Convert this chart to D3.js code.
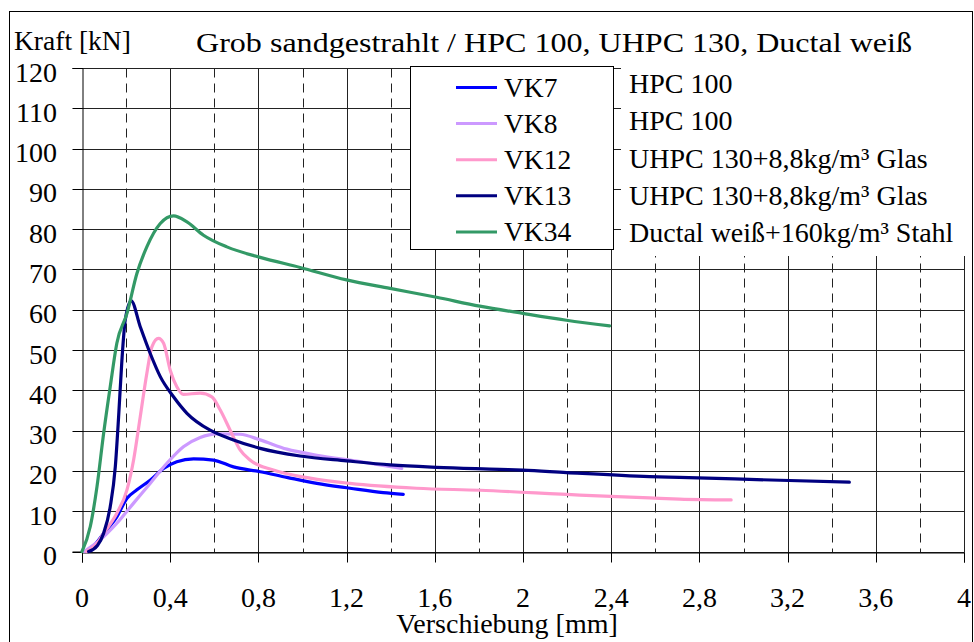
<!DOCTYPE html>
<html><head><meta charset="utf-8">
<script src="https://cdn.jsdelivr.net/npm/d3@7"></script>
<style>body{margin:0;background:#fff}svg{display:block}</style>
</head><body><svg id="c" width="974" height="642" font-family="'Liberation Serif', 'Times New Roman', Tinos, 'DejaVu Serif', serif"></svg>
<script>
const titleText = "Grob sandgestrahlt / HPC 100, UHPC 130, Ductal weiß";
const yAxisTitle = "Kraft [kN]";
const xAxisTitle = "Verschiebung [mm]";
const xTicks = [0,0.4,0.8,1.2,1.6,2,2.4,2.8,3.2,3.6,4];
const xMinor = [0.2,0.6,1.0,1.4,1.8,2.2,2.6,3.0,3.4,3.8];
const yTicks = [0,10,20,30,40,50,60,70,80,90,100,110,120];
const seriesNames = ["VK7","VK8","VK12","VK13","VK34"];
const seriesNotes = ["HPC 100","HPC 100","UHPC 130+8,8kg/m³ Glas","UHPC 130+8,8kg/m³ Glas","Ductal weiß+160kg/m³ Stahl"];
const seriesColors = ["#0000FF","#CC99FF","#FF99CC","#000080","#339966"];

const vk7 = [[0.02,0],[0.06,1.8],[0.098,4.5],[0.158,8.6],[0.204,13.2],[0.249,15.3],[0.309,17.7],[0.37,20.6],[0.43,22.3],[0.506,23.0],[0.596,22.7],[0.687,21.0],[0.808,19.8],[0.929,18.4],[1.065,16.9],[1.215,15.7],[1.366,14.6],[1.457,14.2]];
const vk8 = [[0.01,0],[0.083,2.9],[0.158,7.0],[0.234,12.0],[0.309,16.9],[0.385,21.9],[0.46,26.0],[0.536,28.3],[0.612,29.2],[0.717,29.1],[0.808,27.7],[0.929,25.4],[1.065,23.9],[1.261,22.3],[1.45,20.6]];
const vk12 = [[0.02,0],[0.06,1.5],[0.098,4.5],[0.158,9.5],[0.204,15.3],[0.234,22.7],[0.264,33.4],[0.294,44.2],[0.317,50.8],[0.347,52.9],[0.37,51.7],[0.4,45.0],[0.43,40.9],[0.46,39.0],[0.536,39.3],[0.589,38.4],[0.627,35.1],[0.672,30.1],[0.717,25.2],[0.762,22.7],[0.868,20.2],[1.034,18.2],[1.215,16.9],[1.517,15.7],[1.804,15.2],[2.257,14.0],[2.574,13.3],[2.71,13.0],[2.944,12.8]];
const vk13 = [[0.03,0],[0.07,1.5],[0.098,4.5],[0.128,11.1],[0.151,21.0],[0.166,33.4],[0.181,47.5],[0.196,57.4],[0.223,62.2],[0.264,55.8],[0.309,49.2],[0.355,43.4],[0.415,38.4],[0.476,34.3],[0.581,30.1],[0.687,27.7],[0.808,25.6],[0.989,23.7],[1.2,22.5],[1.397,21.5],[1.608,20.9],[1.895,20.4],[2.0,20.2],[2.197,19.6],[2.574,18.6],[2.71,18.4],[3.027,17.9],[3.48,17.2]];
const vk34 = [[0,0],[0.0376,6.2],[0.068,16.1],[0.098,29.3],[0.128,40.9],[0.158,51.7],[0.204,59.1],[0.249,69.0],[0.294,75.6],[0.355,81.4],[0.415,83.3],[0.476,81.8],[0.551,78.5],[0.657,75.6],[0.808,73.0],[0.989,70.5],[1.2,67.4],[1.397,65.3],[1.608,63.1],[1.804,60.9],[2.0,59.1],[2.197,57.4],[2.393,56.0]];
const seriesData = [vk7,vk8,vk12,vk13,vk34];

const svg = d3.select("#c");
const L=82, R=964, T=68, B=551.5;
const x = d3.scaleLinear().domain([0,4]).range([L,R]);
const y = d3.scaleLinear().domain([0,120]).range([B,T]);
const sx = v => Math.round(x(v))+0.5, sy = v => Math.round(y(v))+0.5;

svg.append("rect").attr("x",9.5).attr("y",11.5).attr("width",963).attr("height",700).attr("fill","#fff").attr("stroke","#000").attr("stroke-width",1);

const g = svg.append("g");
g.selectAll(".hg").data(yTicks).join("line").attr("x1",L).attr("x2",sx(4)).attr("y1",d=>sy(d)).attr("y2",d=>sy(d)).attr("stroke","#222").attr("stroke-width",1);
g.selectAll(".vg").data(xTicks.slice(1)).join("line").attr("x1",d=>sx(d)).attr("x2",d=>sx(d)).attr("y1",sy(120)).attr("y2",sy(0)).attr("stroke","#222").attr("stroke-width",1);
g.selectAll(".vd").data(xMinor).join("line").attr("x1",d=>sx(d)).attr("x2",d=>sx(d)).attr("y1",sy(120)).attr("y2",sy(0)).attr("stroke","#222").attr("stroke-width",1).attr("stroke-dasharray","9,6");

const yAxis = d3.axisLeft(y).tickValues(yTicks).tickSize(10).tickFormat("");
const ya = svg.append("g").attr("transform",`translate(${sx(0)},0)`).call(yAxis);
const xAxis = d3.axisBottom(x).tickValues(xTicks).tickSize(10).tickFormat("");
const xa = svg.append("g").attr("transform",`translate(0,${sy(0)})`).call(xAxis);
[ya,xa].forEach(a=>{a.select(".domain").attr("stroke","#000");a.selectAll(".tick line").attr("stroke","#000");});
ya.selectAll(".tick").attr("transform",d=>`translate(0,${sy(d)})`);
xa.selectAll(".tick").attr("transform",d=>`translate(${sx(d)},0)`);

svg.selectAll(".yl").data(yTicks).join("text").attr("x",57).attr("y",d=>y(d)+13.5).attr("text-anchor","end").attr("font-size",28).text(d=>d);
svg.selectAll(".xl").data(xTicks).join("text").attr("x",d=>x(d)).attr("y",607).attr("text-anchor","middle").attr("font-size",28).text(d=>String(d).replace(".",","));

const line = d3.line().x(d=>x(d[0])).y(d=>y(d[1])).curve(d3.curveMonotoneX);
svg.selectAll(".s").data(seriesData).join("path").attr("d",line).attr("fill","none").attr("stroke",(d,i)=>seriesColors[i]).attr("stroke-width",3.2).attr("stroke-linejoin","round").attr("stroke-linecap","round");

svg.append("rect").attr("x",621).attr("y",60).attr("width",348).attr("height",196).attr("fill","#fff");
svg.append("rect").attr("x",410.5).attr("y",66.5).attr("width",203).attr("height",183).attr("fill","#fff").attr("stroke","#000").attr("stroke-width",1);
const leg = svg.selectAll(".lg").data(seriesNames).join("g").attr("transform",(d,i)=>`translate(0,${87.5+i*36.1})`);
leg.append("line").attr("x1",456).attr("x2",497).attr("stroke",(d,i)=>seriesColors[i]).attr("stroke-width",3);
leg.append("text").attr("x",504).attr("y",9).attr("font-size",27.5).text(d=>d);
svg.selectAll(".nt").data(seriesNotes).join("text").attr("x",629).attr("y",(d,i)=>93+i*37.3).attr("font-size",28).text(d=>d);

svg.append("text").attr("x",554).attr("y",52).attr("text-anchor","middle").attr("font-size",28).attr("textLength",716).attr("lengthAdjust","spacingAndGlyphs").text(titleText);
svg.append("text").attr("x",14).attr("y",50).attr("font-size",27.5).text(yAxisTitle);
svg.append("text").attr("x",507).attr("y",633).attr("text-anchor","middle").attr("font-size",28).text(xAxisTitle);
</script></body></html>
